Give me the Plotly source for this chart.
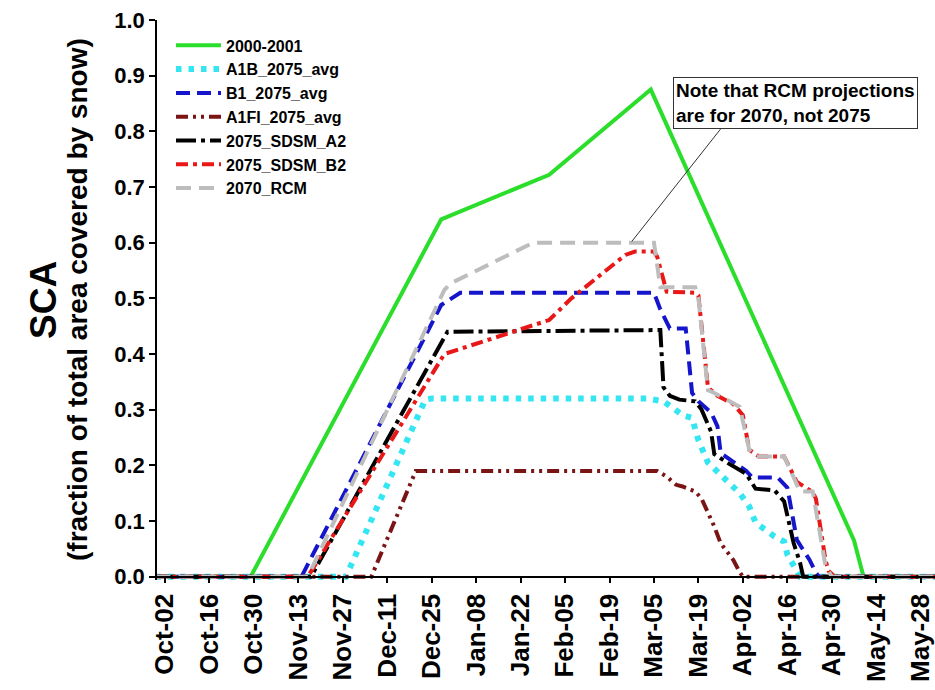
import plotly.graph_objects as go

# ---- snow covered area (fraction), season 2000-2001 and 2070s scenarios ----
obs_dates = ["2000-09-29", "2000-10-29", "2000-12-28", "2001-01-31", "2001-03-04",
             "2001-05-07", "2001-05-10", "2001-06-02"]
obs_sca = [0, 0, 0.642, 0.722, 0.875, 0.065, 0, 0]

a1b_dates = ["2000-09-29", "2000-11-28", "2000-12-23", "2000-12-25", "2001-03-03",
             "2001-03-08", "2001-03-11", "2001-03-14", "2001-03-17", "2001-03-18",
             "2001-03-19", "2001-03-22", "2001-03-27", "2001-04-01", "2001-04-04",
             "2001-04-06", "2001-04-12", "2001-04-15", "2001-04-16", "2001-04-18",
             "2001-04-20", "2001-06-02"]
a1b_sca = [0, 0, 0.318, 0.32, 0.32, 0.315, 0.303, 0.29, 0.285, 0.267, 0.245, 0.205,
           0.178, 0.15, 0.126, 0.097, 0.072, 0.063, 0.04, 0.018, 0, 0]

b1_dates = ["2000-09-29", "2000-11-14", "2000-12-28", "2001-01-03", "2001-03-05",
            "2001-03-07", "2001-03-10", "2001-03-15", "2001-03-17", "2001-03-19",
            "2001-03-23", "2001-03-25", "2001-03-26", "2001-03-29", "2001-04-03",
            "2001-04-05", "2001-04-13", "2001-04-16", "2001-04-19", "2001-04-23",
            "2001-04-25", "2001-04-26", "2001-06-02"]
b1_sca = [0, 0, 0.488, 0.51, 0.51, 0.48, 0.446, 0.446, 0.33, 0.315, 0.295, 0.27,
          0.222, 0.21, 0.19, 0.178, 0.178, 0.16, 0.066, 0.03, 0.007, 0, 0]

a1fi_dates = ["2000-09-29", "2000-12-06", "2000-12-20", "2001-03-06", "2001-03-09",
              "2001-03-12", "2001-03-14", "2001-03-18", "2001-03-20", "2001-03-22",
              "2001-03-24", "2001-03-26", "2001-03-28", "2001-03-30", "2001-04-01",
              "2001-04-02", "2001-06-02"]
a1fi_sca = [0, 0, 0.19, 0.19, 0.18, 0.165, 0.162, 0.153, 0.14, 0.115, 0.09, 0.06,
            0.045, 0.03, 0.008, 0, 0]

sdsm_a2_dates = ["2000-09-29", "2000-11-17", "2000-12-29", "2000-12-30", "2001-03-07",
                 "2001-03-08", "2001-03-10", "2001-03-13", "2001-03-18", "2001-03-20",
                 "2001-03-23", "2001-03-24", "2001-03-28", "2001-04-03", "2001-04-06",
                 "2001-04-12", "2001-04-15", "2001-04-18", "2001-04-20", "2001-04-21",
                 "2001-06-02"]
sdsm_a2_sca = [0, 0, 0.43, 0.44, 0.443, 0.34, 0.325, 0.318, 0.315, 0.3, 0.26, 0.22,
               0.205, 0.185, 0.158, 0.155, 0.135, 0.06, 0.025, 0, 0]

sdsm_b2_dates = ["2000-09-29", "2000-11-16", "2000-12-29", "2001-01-22", "2001-01-31",
                 "2001-02-07", "2001-02-16", "2001-02-24", "2001-02-27", "2001-03-05",
                 "2001-03-06", "2001-03-09", "2001-03-18", "2001-03-19", "2001-03-22",
                 "2001-03-25", "2001-03-30", "2001-04-02", "2001-04-04", "2001-04-07",
                 "2001-04-15", "2001-04-19", "2001-04-24", "2001-04-25", "2001-04-28",
                 "2001-04-29", "2001-05-01", "2001-06-02"]
sdsm_b2_sca = [0, 0, 0.40, 0.443, 0.461, 0.50, 0.542, 0.578, 0.584, 0.584, 0.575,
               0.512, 0.51, 0.505, 0.34, 0.325, 0.31, 0.29, 0.228, 0.216, 0.216, 0.17,
               0.152, 0.14, 0.03, 0.01, 0, 0]

rcm_dates = ["2000-09-29", "2000-11-16", "2000-12-29", "2000-12-31", "2001-01-26",
             "2001-03-05", "2001-03-07", "2001-03-18", "2001-03-19", "2001-03-22",
             "2001-03-24", "2001-04-01", "2001-04-04", "2001-04-06", "2001-04-15",
             "2001-04-19", "2001-04-20", "2001-04-24", "2001-04-28", "2001-04-30",
             "2001-06-02"]
rcm_sca = [0, 0, 0.515, 0.527, 0.60, 0.60, 0.52, 0.52, 0.50, 0.335, 0.33, 0.305,
           0.228, 0.216, 0.216, 0.165, 0.153, 0.153, 0.02, 0, 0]

tick_dates = ["2000-10-02", "2000-10-16", "2000-10-30", "2000-11-13", "2000-11-27",
              "2000-12-11", "2000-12-25", "2001-01-08", "2001-01-22", "2001-02-05",
              "2001-02-19", "2001-03-05", "2001-03-19", "2001-04-02", "2001-04-16",
              "2001-04-30", "2001-05-14", "2001-05-28"]
tick_labels = ["Oct-02", "Oct-16", "Oct-30", "Nov-13", "Nov-27", "Dec-11", "Dec-25",
               "Jan-08", "Jan-22", "Feb-05", "Feb-19", "Mar-05", "Mar-19", "Apr-02",
               "Apr-16", "Apr-30", "May-14", "May-28"]

FONT = "Liberation Sans, Arial, sans-serif"

series = [
    ("2000-2001", obs_dates, obs_sca, "#2BDE2B", 4, "solid"),
    ("A1B_2075_avg", a1b_dates, a1b_sca, "#33E6F2", 6, "5.5px,7px"),
    ("B1_2075_avg", b1_dates, b1_sca, "#1515CC", 4, "14px,7px"),
    ("A1FI_2075_avg", a1fi_dates, a1fi_sca, "#7B1414", 4, "12px,5px,3px,5px,3px,5px"),
    ("2075_SDSM_A2", sdsm_a2_dates, sdsm_a2_sca, "#000000", 4, "20px,5px,4px,5px"),
    ("2075_SDSM_B2", sdsm_b2_dates, sdsm_b2_sca, "#E81818", 4, "12px,5px,4px,5px"),
    ("2070_RCM", rcm_dates, rcm_sca, "#BDBDBD", 4, "15px,8px"),
]

fig = go.Figure()
for name, xs, ys, color, width, dash in series:
    fig.add_trace(go.Scatter(
        x=xs, y=ys, mode="lines", name=f"<b>{name}</b>",
        line=dict(color=color, width=width, dash=dash),
    ))

Y_LOW = -0.006
fig.update_layout(
    width=935, height=690,
    margin=dict(l=157, r=0, t=20, b=110),
    plot_bgcolor="white", paper_bgcolor="white",
    font=dict(family=FONT, color="black"),
    showlegend=True,
    legend=dict(
        x=0.018, y=0.985, xanchor="left", yanchor="top",
        bgcolor="rgba(0,0,0,0)", borderwidth=0,
        font=dict(family=FONT, size=16, color="black"),
        tracegroupgap=0, itemwidth=45,
    ),
    xaxis=dict(
        type="date",
        range=["2000-09-29 12:00", "2001-06-01 12:00"],
        tickvals=tick_dates, ticktext=[f"<b>{t}</b>" for t in tick_labels],
        tickangle=-90,
        tickfont=dict(family=FONT, size=26, color="black"),
        ticklabeloverflow="allow",
        ticks="outside", ticklen=6, tickwidth=1.5, tickcolor="black",
        showline=True, linecolor="black", linewidth=1.5,
        showgrid=False, zeroline=False,
        anchor="free", position=(0 - Y_LOW) / (1.0 - Y_LOW),
    ),
    yaxis=dict(
        range=[Y_LOW, 1.0],
        tickvals=[i / 10 for i in range(11)],
        ticktext=[f"<b>{i / 10:.1f}</b>" for i in range(11)],
        tickfont=dict(family=FONT, size=22, color="black"),
        ticks="outside", ticklen=6, tickwidth=1.5, tickcolor="black",
        showline=True, linecolor="black", linewidth=1.5,
        showgrid=False, zeroline=False,
    ),
)

# axis titles
fig.add_annotation(
    text="<b>SCA</b>", xref="paper", yref="paper", x=-0.1465, y=0.5,
    xanchor="center", yanchor="middle",
    textangle=-90, showarrow=False, font=dict(family=FONT, size=37, color="black"),
)
fig.add_annotation(
    text="<b>(fraction of total area covered by snow)</b>", xref="paper", yref="paper",
    x=-0.1028, y=0.5, xanchor="center", yanchor="middle", textangle=-90,
    showarrow=False, font=dict(family=FONT, size=28, color="black"),
)

# note box and its leader line
fig.add_annotation(
    text="<b>Note that RCM projections<br>are for 2070, not 2075</b>",
    xref="x", yref="y", x="2001-03-11", y=0.898, xanchor="left", yanchor="top",
    showarrow=False, align="left", bgcolor="white",
    bordercolor="#333333", borderwidth=1, borderpad=2,
    font=dict(family=FONT, size=19, color="black"),
)
fig.add_annotation(
    text="", xref="x", yref="y", x="2001-02-26", y=0.602,
    showarrow=True, arrowhead=0, arrowwidth=1, arrowcolor="#333333",
    ax=90, ay=-114, standoff=0,
)

fig.write_html("out.html")
